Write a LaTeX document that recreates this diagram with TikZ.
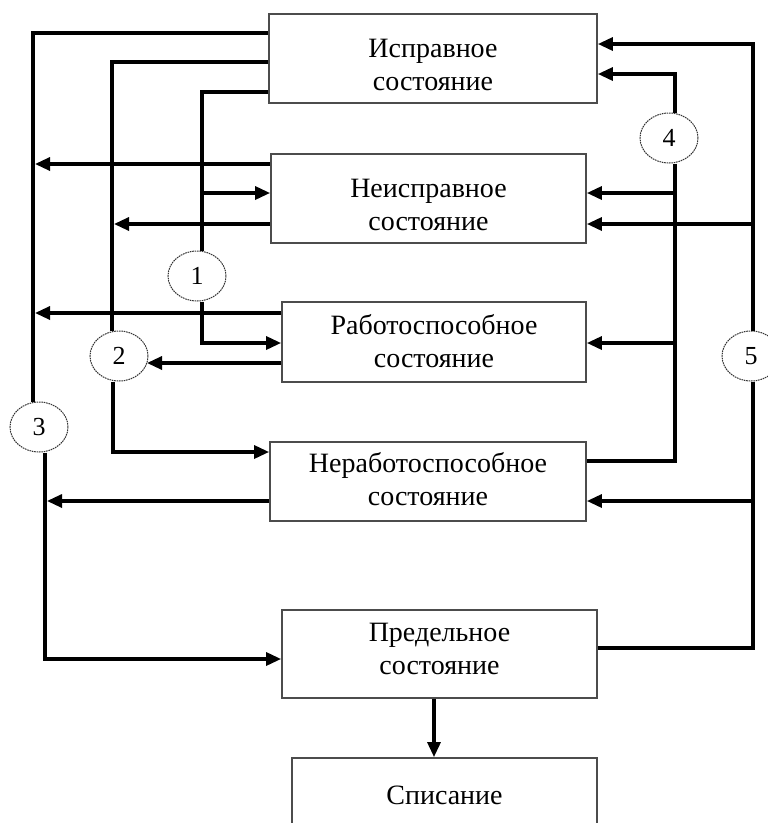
\documentclass[tikz,border=0pt]{standalone}
\usepackage{fontspec}
\setmainfont{Liberation Serif}
\usetikzlibrary{arrows.meta,shapes.geometric}
\newcommand\boxtext[3]{\raisebox{#1}[0pt][0pt]{\begin{tabular}[t]{@{}c@{}}#2\\#3\end{tabular}}}
\begin{document}
\begin{tikzpicture}[x=1pt,y=-1pt,
  box/.style={draw=black!70, line width=1.8pt, rectangle, align=center, font=\fontsize{28}{33}\selectfont, inner sep=0pt},
  conn/.style={line width=3.2pt, black},
  arr/.style={conn, -{Triangle[length=15pt,width=13pt]}},
  num/.style={ellipse, draw=black!80, line width=1pt, dash pattern=on 1.6pt off 0.8pt, minimum width=58pt, minimum height=50pt, inner sep=0pt, font=\fontsize{26}{26}\selectfont, fill=white}]
\useasboundingbox (0,0) rectangle (768,823);
% boxes
\node[box, minimum width=328pt, minimum height=89pt] (b1) at (433,58.5) {\boxtext{1.25pt}{Исправное}{состояние}};
\node[box, minimum width=315pt, minimum height=89pt] (b2) at (428.5,198.5) {\boxtext{1.25pt}{Неисправное}{состояние}};
\node[box, minimum width=304pt, minimum height=80pt] (b3) at (434,342) {\boxtext{7.75pt}{Работоспособное}{состояние}};
\node[box, minimum width=316pt, minimum height=79pt] (b4) at (428,481.5) {\boxtext{9.25pt}{Неработоспособное}{состояние}};
\node[box, minimum width=315pt, minimum height=88pt] (b5) at (439.5,654) {\boxtext{12.75pt}{Предельное}{состояние}};
\node[box, minimum width=305pt, minimum height=74pt] (b6) at (444.5,795) {Списание};
% circles
\node[num] (c1) at (197,276) {1};
\node[num] (c2) at (119,356) {2};
\node[num] (c3) at (39,427) {3};
\node[num] (c4) at (669,138) {4};
\node[num] (c5) at (751,356) {5};
% line A (3)
\draw[conn] (b1.west |- 0,33) -| ([xshift=-6pt]c3.north);
\draw[arr] ([xshift=6pt]c3.south) |- ([yshift=-5pt]b5.west);
\draw[arr] (b2.west |- 0,164) -- (35,164);
\draw[arr] (b3.west |- 0,313) -- (35,313);
\draw[arr] (b4.west |- 0,501) -- (47,501);
% line B (2)
\draw[conn] (b1.west |- 0,62) -| ([xshift=-7pt]c2.north);
\draw[arr] ([xshift=-6pt]c2.south) |- (b4.west |- 0,452);
\draw[arr] (b2.west |- 0,224) -- (114,224);
\draw[arr] (b3.west |- 0,363) -- (147,363);
% line C (1)
\draw[conn] (b1.west |- 0,92) -| ([xshift=5pt]c1.north);
\draw[arr] ([xshift=5pt]c1.south) |- (b3.west |- 0,343);
\draw[arr] (202,193) -- (b2.west |- 0,193);
% line D (4)
\draw[arr] ([xshift=6pt]c4.north) |- (b1.east |- 0,74);
\draw[conn] ([xshift=6pt]c4.south) |- (b4.east |- 0,461);
\draw[arr] (675,193) -- (b2.east |- 0,193);
\draw[arr] (675,343) -- (b3.east |- 0,343);
% line E (5)
\draw[arr] ([xshift=2pt]c5.north) |- (b1.east |- 0,44);
\draw[conn] ([xshift=2pt]c5.south) |- (b5.east |- 0,648);
\draw[arr] (753,224) -- (b2.east |- 0,224);
\draw[arr] (753,501) -- (b4.east |- 0,501);
% to write-off
\draw[arr] ([xshift=-5.5pt]b5.south) -- ([xshift=-10.5pt]b6.north);
\end{tikzpicture}
\end{document}
